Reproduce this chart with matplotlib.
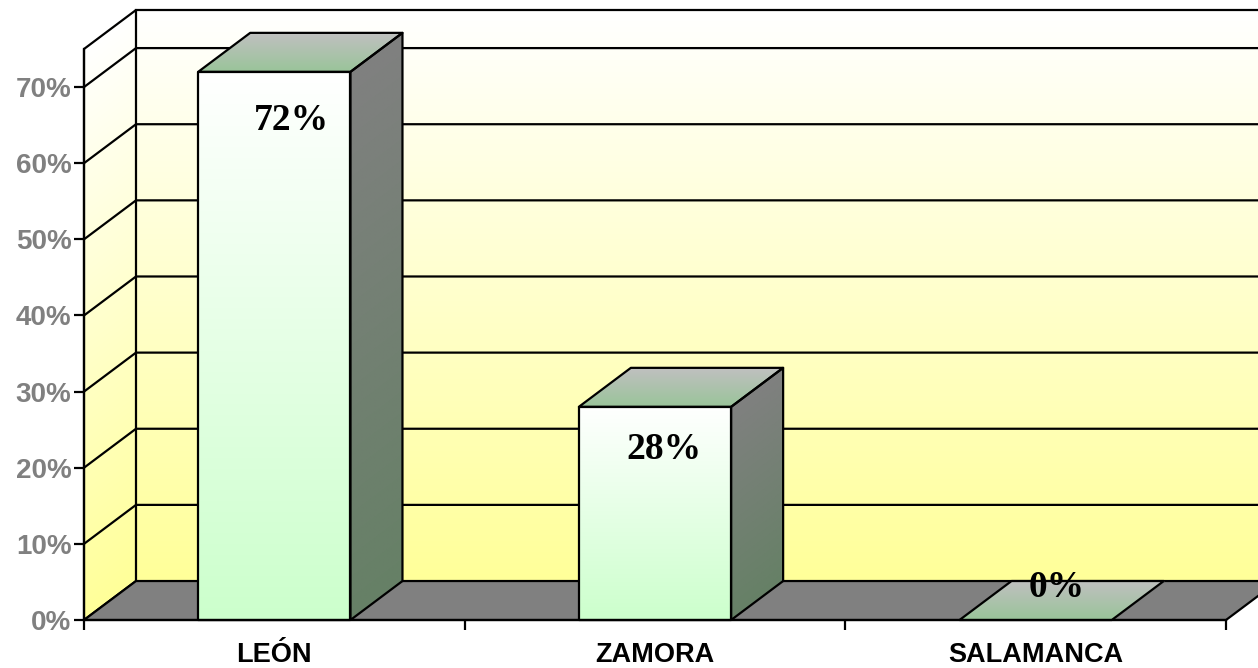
import numpy as np
import matplotlib.pyplot as plt
from matplotlib.colors import LinearSegmentedColormap
from matplotlib.patches import Polygon
from matplotlib.transforms import Affine2D

# data
categories = ['LEÓN', 'ZAMORA', 'SALAMANCA']
values = [72, 28, 0]
y_ticks = [0, 10, 20, 30, 40, 50, 60, 70]
y_max = 75

# 3d look
DX, DY = 0.1366, 5.12     # depth of the box, in data units
BAR_W = 0.4
LW = 1.6

fig = plt.figure(figsize=(12.58, 6.68), dpi=100)
ax = fig.add_axes([84 / 1258, 48 / 668, 1142 / 1258, (620 - 49) / 668])
ax.set_facecolor('none')


def grad(ax, c0, c1, tr, z):
    # unit square image, gradient along its y; tr maps the square onto a face
    cmap = LinearSegmentedColormap.from_list('g', [c0, c1])
    img = np.linspace(0, 1, 256).reshape(-1, 1)
    im = ax.imshow(img, cmap=cmap, extent=(0, 1, 0, 1), origin='lower',
                   aspect='auto', interpolation='bilinear',
                   transform=tr + ax.transData, zorder=z)
    im.set_clip_on(False)


def poly(ax, pts, fc, z):
    ax.add_patch(Polygon(pts, closed=True, fc=fc, ec='black', lw=LW,
                         zorder=z, clip_on=False, joinstyle='round'))


left = -0.5
right = len(categories) - 0.5

# side wall
grad(ax, '#ffff99', '#ffffff',
     Affine2D.from_values(DX, DY, 0, y_max, left, 0), 0)
poly(ax, [(left, 0), (left + DX, DY), (left + DX, y_max + DY), (left, y_max)], 'none', 1)

# back wall
grad(ax, '#ffff99', '#ffffff',
     Affine2D.from_values(right - left + 0.2, 0, 0, y_max, left + DX, DY), 0)
ax.plot([left + DX, right + DX + 0.2], [y_max + DY] * 2, color='black', lw=LW,
        clip_on=False, zorder=1)

# gridlines
for t in y_ticks[1:]:
    ax.plot([left, left + DX, right + DX + 0.2], [t, t + DY, t + DY],
            color='black', lw=LW, clip_on=False, zorder=1)

# floor
poly(ax, [(left, 0), (right, 0), (right + DX, DY), (left + DX, DY)], '#808080', 2)

# bars
for i, v in enumerate(values):
    x0, x1 = i - BAR_W / 2, i + BAR_W / 2
    if v > 0:
        grad(ax, '#ccffcc', '#ffffff',
             Affine2D.from_values(BAR_W, 0, 0, v, x0, 0), 3)
        poly(ax, [(x0, 0), (x1, 0), (x1, v), (x0, v)], 'none', 4)
        grad(ax, '#668066', '#808080',
             Affine2D.from_values(DX, DY, 0, v, x1, 0), 3)
        poly(ax, [(x1, 0), (x1 + DX, DY), (x1 + DX, v + DY), (x1, v)], 'none', 4)
    # top face, gradient from front to back
    grad(ax, '#99c499', '#c0c0c0',
         Affine2D.from_values(BAR_W, 0, DX, DY, x0, v), 3)
    poly(ax, [(x0, v), (x1, v), (x1 + DX, v + DY), (x0 + DX, v + DY)], 'none', 4)

# data labels
for i, v in enumerate(values):
    if v > 0:
        lx, ly = i + 0.01 + 0.0005 * v, 0.98 * v - 5.0
    else:
        lx, ly = i + DX * 0.4, v + 4.3
    ax.text(lx, ly, f'{v}%', ha='center', va='center', fontsize=27,
            fontweight='bold', family='Liberation Serif', zorder=6)

# axes
ax.set_xlim(left, right)
ax.set_ylim(0, y_max)
for s in ['top', 'right']:
    ax.spines[s].set_visible(False)
for s in ['left', 'bottom']:
    ax.spines[s].set_linewidth(LW)
    ax.spines[s].set_zorder(5)
ax.set_yticks(y_ticks)
ax.set_yticklabels([f'{t}%' for t in y_ticks])
ax.tick_params(axis='y', length=7, width=LW, pad=2, labelsize=20,
               labelcolor='#808080')
for lab in ax.get_yticklabels():
    lab.set_fontweight('bold')
    lab.set_family('Liberation Sans')
ax.set_xticks(np.arange(len(categories) + 1) - 0.5)
ax.set_xticklabels([])
ax.tick_params(axis='x', length=7, width=LW)
ax.set_xticks(range(len(categories)), minor=True)
ax.set_xticklabels(categories, minor=True)
ax.tick_params(axis='x', which='minor', length=0, pad=16, labelsize=19.5)
for lab in ax.get_xticklabels(minor=True):
    lab.set_fontweight('bold')
    lab.set_family('Liberation Sans')

fig.savefig('out.png', dpi=100, facecolor='white')
